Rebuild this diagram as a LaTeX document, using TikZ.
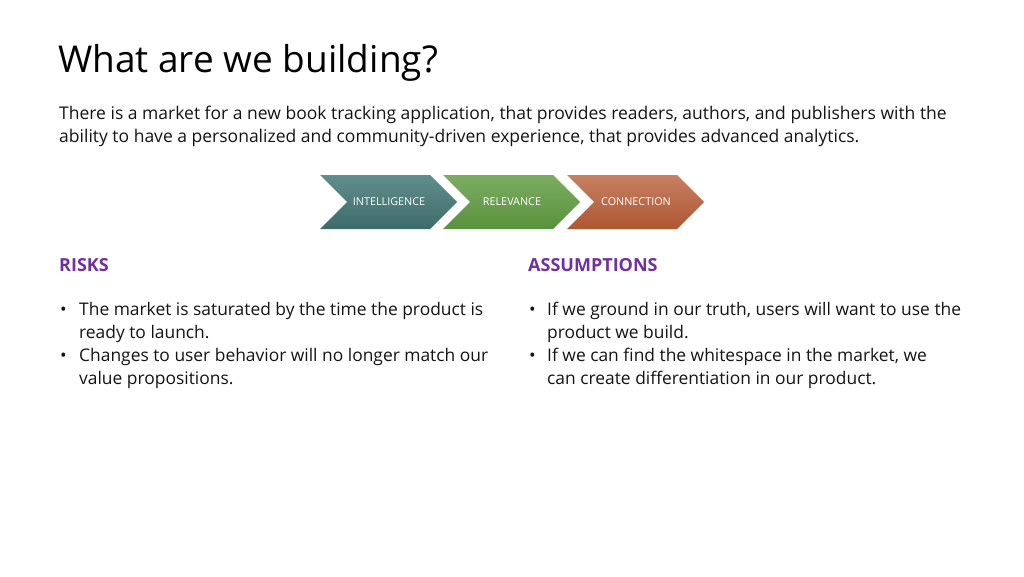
\documentclass[tikz,border=0pt]{standalone}
\usepackage{fontspec}
\setmainfont{Open Sans}
\usetikzlibrary{calc}
\definecolor{teal1}{RGB}{96,142,140}
\definecolor{teal2}{RGB}{60,108,106}
\definecolor{green1}{RGB}{124,172,98}
\definecolor{green2}{RGB}{88,146,60}
\definecolor{orange1}{RGB}{198,128,98}
\definecolor{orange2}{RGB}{176,86,50}
\definecolor{purp}{RGB}{112,48,160}
\definecolor{txt}{RGB}{20,20,20}
\begin{document}
\begin{tikzpicture}[x=1pt,y=-1pt,
  title/.style={anchor=base west,inner sep=0pt,font=\fontsize{37}{44}\selectfont,text=black},
  body/.style={anchor=base west,inner sep=0pt,font=\fontsize{17.5}{21}\selectfont,text=txt},
  head/.style={anchor=base west,inner sep=0pt,font=\fontsize{18}{22}\selectfont\bfseries,text=purp},
  bul/.style={anchor=base west,inner sep=0pt,font=\fontsize{17.4}{21}\selectfont,text=txt},
  chevtext/.style={inner sep=0pt,font=\fontsize{10.8}{12}\selectfont,text=white}]
\useasboundingbox[fill=white] (0,0) rectangle (1024,576);
\node[title] (t) at (58,72) {What are we building?};
\node[body] (p1) at (59,119) {There is a market for a new book tracking application, that provides readers, authors, and publishers with the};
\node[body] (p2) at (59,142) {ability to have a personalized and community-driven experience, that provides advanced analytics.};
% chevrons
\foreach \x/\ca/\cb/\nm/\lab in {320/teal1/teal2/c1/INTELLIGENCE,443/green1/green2/c2/RELEVANCE,567/orange1/orange2/c3/CONNECTION}{
  \shade[top color=\ca,bottom color=\cb] (\x,175) -- (\x+110,175) -- (\x+137,202) -- (\x+110,229) -- (\x,229) -- (\x+27,202) -- cycle;
  \node[chevtext] (\nm) at (\x+69,202) {\lab};
}
% headings
\node[head] (h1) at (59,271) {RISKS};
\node[head] (h2) at (528,271) {ASSUMPTIONS};
% risks
\node[bul] (b1) at (60,315) {•};
\node[bul] (r1) at (79,315) {The market is saturated by the time the product is};
\node[bul] (r2) at (79,338) {ready to launch.};
\node[bul] (b2) at (60,361) {•};
\node[bul] (r3) at (79,361) {Changes to user behavior will no longer match our};
\node[bul] (r4) at (79,384) {value propositions.};
% assumptions
\node[bul] (b3) at (529,315) {•};
\node[bul] (a1) at (547,315) {If we ground in our truth, users will want to use the};
\node[bul] (a2) at (547,338) {product we build.};
\node[bul] (b4) at (529,361) {•};
\node[bul] (a3) at (547,361) {If we can find the whitespace in the market, we};
\node[bul] (a4) at (547,384) {can create differentiation in our product.};
\end{tikzpicture}
\end{document}
